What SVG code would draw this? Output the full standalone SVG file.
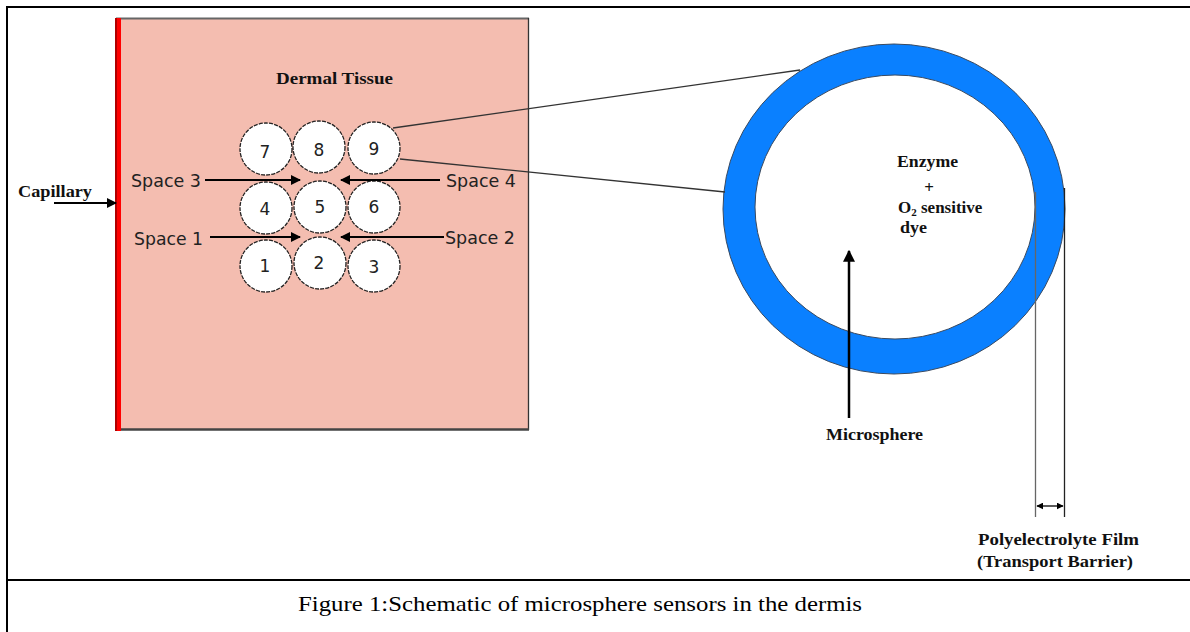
<svg xmlns="http://www.w3.org/2000/svg" width="1190" height="632" viewBox="0 0 1190 632">
  <style>
    .frame { stroke: #000; stroke-width: 2; fill: none; }
    .ball { fill: #fff; stroke: #222; stroke-width: 1.3; stroke-dasharray: 4 1.2; }
    .num { font-family: "DejaVu Sans", sans-serif; font-size: 17px; fill: #222; text-anchor: middle; }
    .space { font-family: "DejaVu Sans", sans-serif; font-size: 17px; fill: #222; }
    .lbl { font-family: "Liberation Serif", "Times New Roman", serif; font-weight: bold; font-size: 17px; fill: #111; }
    .arrow { stroke: #000; stroke-width: 2; fill: none; marker-end: url(#arr); }
    .thin { stroke: #333; stroke-width: 1.3; fill: none; }
    .cap { font-family: "Liberation Serif", "Times New Roman", serif; font-size: 22px; fill: #000; }
  </style>
  <defs>
    <marker id="arr" viewBox="0 0 10 10" refX="9" refY="5" markerWidth="11" markerHeight="10" markerUnits="userSpaceOnUse" orient="auto">
      <path d="M0,0 L10,5 L0,10 z" fill="#000"/>
    </marker>
    <marker id="arrbig" viewBox="0 0 10 10" refX="9" refY="5" markerWidth="12" markerHeight="14" markerUnits="userSpaceOnUse" orient="auto">
      <path d="M0,0 L10,5 L0,10 z" fill="#000"/>
    </marker>
    <marker id="arrs" viewBox="0 0 10 10" refX="9" refY="5" markerWidth="7" markerHeight="7" markerUnits="userSpaceOnUse" orient="auto-start-reverse">
      <path d="M0,0 L10,5 L0,10 z" fill="#000"/>
    </marker>
  </defs>

  <rect width="1190" height="632" fill="#fff"/>

  <!-- outer frame -->
  <g id="frame">
    <line class="frame" x1="7" y1="7" x2="1190" y2="7"/>
    <line class="frame" x1="7" y1="6" x2="7" y2="632"/>
    <line class="frame" x1="7" y1="580" x2="1190" y2="580"/>
  </g>

  <!-- dermal tissue -->
  <g id="tissue">
    <rect x="116" y="18" width="413" height="412" fill="#f4bdb0"/>
    <line x1="116" y1="18.5" x2="529" y2="18.5" stroke="#666" stroke-width="2"/>
    <line x1="528.5" y1="18" x2="528.5" y2="430" stroke="#333" stroke-width="1.3"/>
    <line x1="116" y1="429.5" x2="529" y2="429.5" stroke="#444" stroke-width="2.5"/>
    <rect x="115" y="18" width="6" height="413" fill="#ff0000"/>
    <line x1="116" y1="18" x2="116" y2="431" stroke="#b00000" stroke-width="2"/>
    <text class="lbl" x="276" y="84" textLength="117" lengthAdjust="spacingAndGlyphs">Dermal Tissue</text>
  </g>

  <g id="capillary">
    <text class="lbl" x="18" y="197" textLength="74" lengthAdjust="spacingAndGlyphs">Capillary</text>
  </g>

  <!-- microspheres -->
  <g id="c7"><circle class="ball" cx="266" cy="149" r="26"/><text class="num" x="265" y="158">7</text></g>
  <g id="c8"><circle class="ball" cx="319" cy="147" r="26"/><text class="num" x="319" y="156">8</text></g>
  <g id="c9"><circle class="ball" cx="374" cy="148" r="26"/><text class="num" x="374" y="155">9</text></g>
  <g id="c4"><circle class="ball" cx="266" cy="208" r="26"/><text class="num" x="265" y="215">4</text></g>
  <g id="c5"><circle class="ball" cx="320" cy="207" r="26"/><text class="num" x="320" y="213">5</text></g>
  <g id="c6"><circle class="ball" cx="374" cy="207" r="26"/><text class="num" x="374" y="213">6</text></g>
  <g id="c1"><circle class="ball" cx="266" cy="266" r="26"/><text class="num" x="265" y="272">1</text></g>
  <g id="c2"><circle class="ball" cx="320" cy="263" r="26"/><text class="num" x="319" y="269">2</text></g>
  <g id="c3"><circle class="ball" cx="374" cy="266" r="26"/><text class="num" x="374" y="273">3</text></g>

  <g id="space-labels">
    <text class="space" x="131" y="187" textLength="70" lengthAdjust="spacingAndGlyphs">Space 3</text>
    <text class="space" x="446" y="187" textLength="70" lengthAdjust="spacingAndGlyphs">Space 4</text>
    <text class="space" x="134" y="245" textLength="69" lengthAdjust="spacingAndGlyphs">Space 1</text>
    <text class="space" x="445" y="244" textLength="70" lengthAdjust="spacingAndGlyphs">Space 2</text>
  </g>

  <!-- enlarged microsphere -->
  <g id="microsphere">
    <ellipse cx="894" cy="209" rx="171" ry="165" fill="#0a80ff" stroke="#3a4a60" stroke-width="1"/>
    <ellipse cx="895" cy="207" rx="140" ry="132" fill="#fff" stroke="#3a4a60" stroke-width="1"/>
    <text class="lbl" x="897" y="167" textLength="61" lengthAdjust="spacingAndGlyphs">Enzyme</text>
    <text class="lbl" x="929" y="193" text-anchor="middle">+</text>
    <text class="lbl" x="898" y="213">O<tspan font-size="11" dy="3">2</tspan><tspan dy="-3"> sensitive</tspan></text>
    <text class="lbl" x="900" y="233" textLength="27" lengthAdjust="spacingAndGlyphs">dye</text>
  </g>

  <g id="microsphere-label">
    <text class="lbl" x="826" y="440" textLength="97" lengthAdjust="spacingAndGlyphs">Microsphere</text>
  </g>

  <g id="film-label">
    <text class="lbl" x="978" y="545" textLength="161" lengthAdjust="spacingAndGlyphs">Polyelectrolyte Film</text>
    <text class="lbl" x="977" y="567" textLength="156" lengthAdjust="spacingAndGlyphs">(Transport Barrier)</text>
  </g>

  <!-- connectors -->
  <g id="connectors">
    <line class="arrow" x1="54" y1="203" x2="116" y2="203"/>
    <line class="arrow" x1="205" y1="180" x2="300" y2="180"/>
    <line class="arrow" x1="440" y1="180" x2="341" y2="180"/>
    <line class="arrow" x1="210" y1="237" x2="300" y2="237"/>
    <line class="arrow" x1="444" y1="237" x2="341" y2="237"/>
    <line class="thin" x1="393" y1="128" x2="800" y2="70"/>
    <line class="thin" x1="400" y1="159" x2="725" y2="192"/>
    <line x1="849" y1="418" x2="849" y2="251" stroke="#000" stroke-width="2.5" marker-end="url(#arrbig)"/>
    <line x1="1035.5" y1="192" x2="1035.5" y2="517" stroke="#666" stroke-width="1.3"/>
    <line x1="1064.5" y1="188" x2="1064.5" y2="517" stroke="#222" stroke-width="1.3"/>
    <line x1="1037" y1="506" x2="1063" y2="506" stroke="#000" stroke-width="1.3" marker-start="url(#arrs)" marker-end="url(#arrs)"/>
  </g>

  <g id="caption">
    <text class="cap" x="298" y="611" textLength="564" lengthAdjust="spacingAndGlyphs">Figure 1:Schematic of microsphere sensors in the dermis</text>
  </g>
</svg>
